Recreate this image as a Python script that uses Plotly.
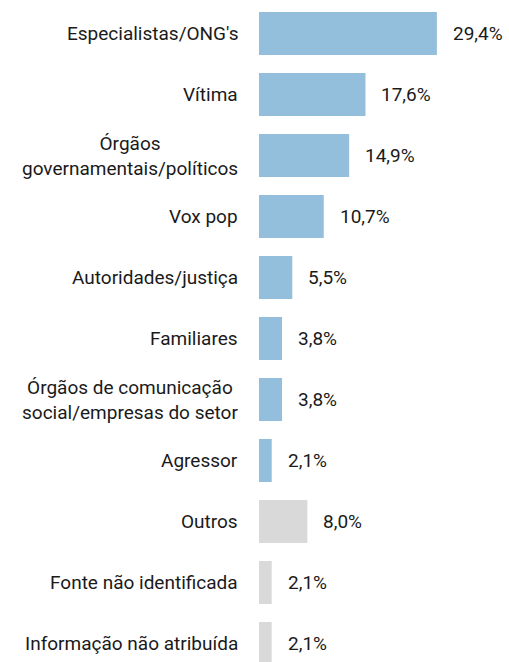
import plotly.graph_objects as go

categories = [
    "Especialistas/ONG's",
    "Vítima",
    "Órgãos<br>governamentais/políticos",
    "Vox pop",
    "Autoridades/justiça",
    "Familiares",
    "Órgãos de comunicação<br>social/empresas do setor",
    "Agressor",
    "Outros",
    "Fonte não identificada",
    "Informação não atribuída",
]
values = [29.4, 17.6, 14.9, 10.7, 5.5, 3.8, 3.8, 2.1, 8.0, 2.1, 2.1]
labels = ["29,4%", "17,6%", "14,9%", "10,7%", "5,5%", "3,8%", "3,8%", "2,1%", "8,0%", "2,1%", "2,1%"]
groups = ["main"] * 8 + ["other"] * 3

BLUE = "#93BEDC"
GREY = "#D9D9D9"
colors = [BLUE if g == "main" else GREY for g in groups]
FONT = "Roboto"
FSIZE = 19

fig = go.Figure(
    go.Bar(
        x=values,
        y=categories,
        orientation="h",
        marker=dict(color=colors, line=dict(width=0)),
        width=0.705,
        hoverinfo="skip",
    )
)

annotations = []
for cat, v, lab in zip(categories, values, labels):
    annotations.append(dict(
        x=v, y=cat, xref="x", yref="y", text=lab, showarrow=False,
        xanchor="left", yanchor="middle", xshift=14,
        font=dict(family=FONT, size=FSIZE, color="#1a1a1a"),
    ))
    annotations.append(dict(
        x=0, y=cat, xref="x", yref="y", text=cat, showarrow=False,
        xanchor="right", yanchor="middle", xshift=-19, align="center",
        font=dict(family=FONT, size=FSIZE, color="#1a1a1a"),
    ))

fig.update_layout(
    width=509, height=662,
    margin=dict(l=259, r=8, t=3, b=0),
    paper_bgcolor="white", plot_bgcolor="white",
    showlegend=False,
    annotations=annotations,
    xaxis=dict(range=[0, 40], visible=False, fixedrange=True),
    yaxis=dict(
        type="category",
        categoryorder="array", categoryarray=categories,
        range=[10.303, -0.5],
        showticklabels=False, showgrid=False, zeroline=False, showline=False,
        fixedrange=True,
    ),
)

fig.write_html(
    "out.html",
    config={"displayModeBar": False},
    post_script="document.body.style.margin='0';document.body.style.padding='0';",
)
